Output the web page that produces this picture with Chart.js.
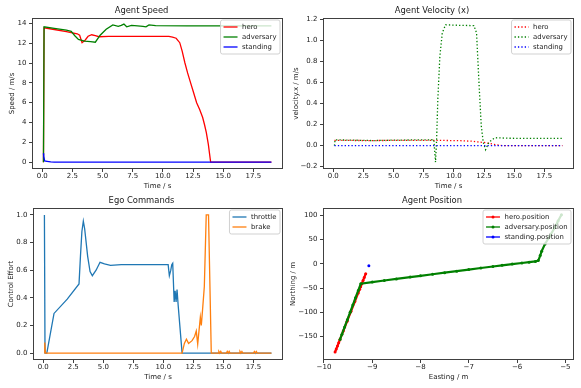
<!DOCTYPE html>
<html><head><meta charset="utf-8">
<script src="https://cdn.jsdelivr.net/npm/chart.js@4/dist/chart.umd.min.js"></script>
<style>
html,body{margin:0;padding:0;background:#fff;}
body{width:581px;height:388px;position:relative;overflow:hidden;}
.p{position:absolute;}
</style>
</head><body>
<div class="p" style="left:0;top:0"><canvas id="c1" width="290" height="194"></canvas></div>
<div class="p" style="left:290px;top:0"><canvas id="c2" width="291" height="194"></canvas></div>
<div class="p" style="left:0;top:194px"><canvas id="c3" width="290" height="194"></canvas></div>
<div class="p" style="left:290px;top:194px"><canvas id="c4" width="291" height="194"></canvas></div>
<script>
// ---------- DATA ----------
// Agent Speed (m/s) vs time (s)
const speedHeroT = [0.1, 0.15, 1.0, 2.0, 2.9, 3.1, 3.3, 3.55, 3.8, 4.1, 4.4, 4.7, 5.5, 8.0, 10.5, 10.8, 11.1, 11.4, 11.6, 11.83, 12.05, 12.3, 12.55, 12.8, 13.05, 13.3, 13.45, 13.6, 13.77, 13.96, 15, 17, 19];
const speedHeroV = [0, 13.55, 13.38, 13.17, 12.95, 12.8, 12.05, 12.3, 12.7, 12.85, 12.75, 12.65, 12.68, 12.68, 12.68, 12.62, 12.5, 12.05, 11.2, 10.0, 9.0, 8.0, 7.0, 6.0, 5.3, 4.5, 3.8, 3.0, 1.8, 0, 0, 0, 0];
const speedAdvT = [0.1, 0.15, 1.0, 2.0, 2.4, 2.7, 3.0, 3.5, 4.0, 4.4, 4.8, 5.3, 5.85, 6.3, 6.55, 6.77, 7.0, 7.4, 7.9, 8.35, 8.6, 8.85, 9.4, 12, 15, 19];
const speedAdvV = [0, 13.65, 13.5, 13.32, 13.2, 12.75, 12.38, 12.2, 12.15, 12.1, 12.8, 13.4, 13.85, 13.7, 13.8, 13.92, 13.65, 13.8, 13.75, 13.7, 13.65, 13.85, 13.78, 13.75, 13.75, 13.75];
const speedStdT = [0.1, 0.12, 0.2, 0.4, 0.7, 1.0, 19];
const speedStdV = [0.9, 0.6, 0.12, 0.08, 0.02, 0, 0];

// Agent Velocity (x)
const velHeroT = [0.1, 3, 6, 8.5, 10.5, 11.5, 12.0, 12.5, 13.0, 13.5, 14.0, 19];
const velHeroV = [0.05, 0.048, 0.05, 0.05, 0.047, 0.042, 0.035, 0.03, 0.02, 0.008, 0, 0];
const velAdvT = [0.1, 0.15, 3.3, 5.0, 8.34, 8.48, 8.57, 8.67, 8.84, 9.04, 9.31, 10.5, 11.66, 11.88, 12.08, 12.27, 12.44, 12.63, 12.9, 13.2, 13.46, 14.5, 19];
const velAdvV = [0, 0.055, 0.048, 0.052, 0.056, -0.157, 0.06, 0.44, 0.85, 1.07, 1.147, 1.142, 1.14, 1.07, 0.6, 0.19, 0.03, -0.038, 0.03, 0.06, 0.075, 0.07, 0.068];
const velStdT = [0.1, 19];
const velStdV = [0, 0];

// Ego Commands
const thrT = [0.1, 0.15, 0.3, 0.9, 2.0, 2.98, 3.1, 3.22, 3.34, 3.45, 3.7, 3.9, 4.09, 4.4, 4.73, 5.1, 5.6, 6.5, 10.4, 10.5, 10.62, 10.7, 10.78, 10.9, 10.98, 11.06, 11.14, 11.23, 11.56, 15, 19];
const thrV = [1.0, 0.0, 0.0, 0.287, 0.39, 0.5, 0.7, 0.88, 0.955, 0.9, 0.7, 0.59, 0.56, 0.6, 0.657, 0.645, 0.635, 0.64, 0.64, 0.56, 0.6, 0.64, 0.65, 0.37, 0.45, 0.37, 0.46, 0.35, 0, 0, 0];
const brkT = [0.1, 0.13, 0.18, 11.56, 11.75, 11.92, 12.1, 12.39, 12.6, 12.74, 12.86, 13.08, 13.16, 13.27, 13.41, 13.57, 13.76, 13.99, 14.55, 14.62, 14.7, 14.78, 14.85, 15.25, 15.32, 15.4, 15.48, 15.55, 16.3, 16.38, 16.46, 16.54, 16.62, 16.7, 17.5, 17.58, 17.66, 17.74, 17.82, 17.9, 19];
const brkV = [0, 0.077, 0, 0, 0.07, 0.10, 0.07, 0.09, 0.12, 0.16, 0.065, 0.26, 0.2, 0.32, 0.48, 1.0, 1.0, 0, 0, 0.012, 0, 0.012, 0, 0, 0.012, 0, 0.012, 0, 0, 0.012, 0, 0.012, 0, 0, 0, 0.012, 0, 0.012, 0, 0, 0];

// Agent Position (Easting, Northing)
const heroPosE = [-9.77, -9.745, -9.72, -9.695, -9.67, -9.6, -9.52, -9.44, -9.36, -9.29, -9.26, -9.24, -9.215, -9.19, -9.165, -9.135];
const heroPosN = [-181.6, -175.3, -169, -162.6, -156.3, -138.5, -118.2, -97.9, -77.7, -60, -52.4, -47.3, -41, -34.6, -28.3, -20.7];
const advPosE = [-9.667, -9.627, -9.571, -9.515, -9.458, -9.402, -9.346, -9.289, -9.237, -9.0, -8.75, -8.5, -8.215, -8.0, -7.75, -7.5, -7.25, -7.0, -6.75, -6.5, -6.31, -6.1, -5.9, -5.75, -5.62, -5.56, -5.52, -5.49, -5.42, -5.32, -5.215, -5.15, -5.08];
const advPosN = [-155.6, -145, -130, -115, -100, -85, -70, -55, -41.1, -37.8, -34.6, -31.4, -27.6, -24.9, -21.7, -18.5, -15.3, -12.1, -8.9, -5.8, -3.4, -0.8, 1.4, 3.1, 4.6, 6.5, 16.8, 25.7, 40.7, 57, 74.8, 88, 100.6];
const stdPosE = [-9.07];
const stdPosN = [-4.3];

// Tick labels
const timeTicks = [0, 2.5, 5, 7.5, 10, 12.5, 15, 17.5];
const speedTicks = [0, 2, 4, 6, 8, 10, 12, 14];
const velTicks = [-0.2, 0, 0.2, 0.4, 0.6, 0.8, 1.0, 1.2];
const effortTicks = [0, 0.2, 0.4, 0.6, 0.8, 1.0];
const eastTicks = [-10, -9, -8, -7, -6, -5];
const northTicks = [-150, -100, -50, 0, 50, 100];

// ---------- HELPERS ----------
const FONT = "'DejaVu Sans', sans-serif";
const TXT = '#1a1a1a';
const xy = (xs, ys) => xs.map((x, i) => ({x: x, y: ys[i]}));
const minus = s => String(s).replace('-', '\u2212');
const f1 = v => minus((Math.abs(v) < 1e-9 ? 0 : v).toFixed(1));
const f0 = v => minus(String(Math.round(v)));

function makeChart(id, g, spec) {
  const deco = {
    id: 'deco_' + id,
    afterDatasetsDraw(chart) {
      const a = chart.chartArea, ctx = chart.ctx;
      ctx.save();
      ctx.strokeStyle = 'rgba(0,0,0,0.75)';
      ctx.lineWidth = 1;
      ctx.strokeRect(Math.round(a.left) + 0.5, Math.round(a.top) + 0.5, Math.round(a.right - a.left) - 1, Math.round(a.bottom - a.top) - 1);
      ctx.restore();
    },
    afterDraw(chart) {
      const a = chart.chartArea, ctx = chart.ctx;
      const items = spec.legend;
      ctx.save();
      ctx.font = '6.9px ' + FONT;
      let mw = 0;
      items.forEach(it => { mw = Math.max(mw, ctx.measureText(it.label).width); });
      const padL = 3, hl = 14, gap = 4.5, padR = 3.5;
      const w = padL + hl + gap + mw + padR;
      const h = items.length * 10 + 4;
      const x0 = a.right - 3 - w, y0 = a.top + 2;
      // box
      const r = 2;
      ctx.beginPath();
      ctx.moveTo(x0 + r, y0);
      ctx.lineTo(x0 + w - r, y0); ctx.quadraticCurveTo(x0 + w, y0, x0 + w, y0 + r);
      ctx.lineTo(x0 + w, y0 + h - r); ctx.quadraticCurveTo(x0 + w, y0 + h, x0 + w - r, y0 + h);
      ctx.lineTo(x0 + r, y0 + h); ctx.quadraticCurveTo(x0, y0 + h, x0, y0 + h - r);
      ctx.lineTo(x0, y0 + r); ctx.quadraticCurveTo(x0, y0, x0 + r, y0);
      ctx.closePath();
      ctx.fillStyle = 'rgba(255,255,255,0.8)';
      ctx.fill();
      ctx.strokeStyle = '#cccccc';
      ctx.lineWidth = 0.9;
      ctx.stroke();
      items.forEach((it, i) => {
        const cy = y0 + 7 + i * 10;
        ctx.strokeStyle = it.color;
        ctx.lineWidth = 1.3;
        ctx.setLineDash(it.dash || []);
        ctx.beginPath();
        ctx.moveTo(x0 + padL, cy); ctx.lineTo(x0 + padL + hl, cy);
        ctx.stroke();
        ctx.setLineDash([]);
        if (it.marker) {
          ctx.fillStyle = it.color;
          ctx.beginPath(); ctx.arc(x0 + padL + hl / 2, cy, 1.5, 0, Math.PI * 2); ctx.fill();
        }
        ctx.fillStyle = TXT;
        ctx.textBaseline = 'middle';
        ctx.textAlign = 'left';
        ctx.fillText(it.label, x0 + padL + hl + gap, cy + 0.5);
      });
      ctx.restore();
    }
  };
  const tickFont = {family: FONT, size: 7, lineHeight: 1};
  const gridOpts = {display: true, drawOnChartArea: false, drawTicks: true, tickLength: 3, tickColor: 'rgba(0,0,0,0.75)', tickWidth: 1, color: 'rgba(0,0,0,0)'};
  return new Chart(document.getElementById(id), {
    type: 'line',
    data: {datasets: spec.datasets},
    options: {
      responsive: false, animation: false, devicePixelRatio: 1,
      events: [],
      layout: {padding: {left: 0, right: g.padRight, top: 0, bottom: 0}},
      plugins: {
        legend: {display: false}, tooltip: {enabled: false},
        title: {display: true, text: spec.title, color: TXT,
          font: {family: FONT, size: 8.4, weight: 'normal', lineHeight: '10px'},
          padding: {top: g.tTop, bottom: g.tBottom}}
      },
      scales: {
        x: {type: 'linear', position: 'bottom', min: spec.xMin, max: spec.xMax,
          afterBuildTicks: s => { s.ticks = spec.xTicks.map(v => ({value: v})); },
          afterFit: s => { s.height = g.xH; },
          ticks: {callback: v => spec.xFmt(v), font: tickFont, color: TXT, padding: 0.7, autoSkip: false, maxRotation: 0, minRotation: 0},
          grid: gridOpts, border: {display: false},
          title: {display: true, text: spec.xTitle, color: TXT, font: {family: FONT, size: 7, lineHeight: 1}, padding: {top: 0, bottom: g.xTitlePad}}
        },
        y: {type: 'linear', position: 'left', min: spec.yMin, max: spec.yMax,
          afterBuildTicks: s => { s.ticks = spec.yTicks.map(v => ({value: v})); },
          afterFit: s => { s.width = g.yW; },
          ticks: {callback: v => spec.yFmt(v), font: tickFont, color: TXT, padding: 2.6, autoSkip: false},
          grid: gridOpts, border: {display: false},
          title: {display: true, text: spec.yTitle, color: TXT, font: {family: FONT, size: 7, lineHeight: 1}, padding: {top: g.yTitlePad, bottom: 0}}
        }
      }
    },
    plugins: [deco]
  });
}

const solid = (label, xs, ys, color, order) => ({label, data: xy(xs, ys), borderColor: color, backgroundColor: color, borderWidth: 1.3, pointRadius: 0, tension: 0, fill: false, order});
const dotted = (label, xs, ys, color, order) => ({label, data: xy(xs, ys), borderColor: color, backgroundColor: color, borderWidth: 1.3, borderDash: [1.3, 2.1], pointRadius: 0, tension: 0, fill: false, order});
const marked = (label, xs, ys, color, order, lw) => ({label, data: xy(xs, ys), borderColor: color, backgroundColor: color, borderWidth: lw, pointRadius: 1.5, pointBorderWidth: 0, pointBackgroundColor: color, tension: 0, fill: false, order});

makeChart('c1', {padRight: 7, tTop: 6, tBottom: 2, xH: 25, yW: 32, xTitlePad: 4.8, yTitlePad: 8.2}, {
  title: 'Agent Speed', xTitle: 'Time / s', yTitle: 'Speed / m/s',
  xMin: -0.85, xMax: 19.96, xTicks: timeTicks, xFmt: f1,
  yMin: -0.69, yMax: 14.54, yTicks: speedTicks, yFmt: f0,
  datasets: [
    solid('hero', speedHeroT, speedHeroV, '#ff0000', 3),
    solid('adversary', speedAdvT, speedAdvV, '#008000', 2),
    solid('standing', speedStdT, speedStdV, '#0000ff', 1)
  ],
  legend: [{label: 'hero', color: '#ff0000'}, {label: 'adversary', color: '#008000'}, {label: 'standing', color: '#0000ff'}]
});

makeChart('c2', {padRight: 7, tTop: 6, tBottom: 2, xH: 25, yW: 33, xTitlePad: 4.8, yTitlePad: 2.5}, {
  title: 'Agent Velocity (x)', xTitle: 'Time / s', yTitle: 'velocity.x / m/s',
  xMin: -0.85, xMax: 19.96, xTicks: timeTicks, xFmt: f1,
  yMin: -0.222, yMax: 1.212, yTicks: velTicks, yFmt: f1,
  datasets: [
    dotted('hero', velHeroT, velHeroV, '#ff0000', 3),
    dotted('adversary', velAdvT, velAdvV, '#008000', 2),
    dotted('standing', velStdT, velStdV, '#0000ff', 1)
  ],
  legend: [{label: 'hero', color: '#ff0000', dash: [1.3, 2.1]}, {label: 'adversary', color: '#008000', dash: [1.3, 2.1]}, {label: 'standing', color: '#0000ff', dash: [1.3, 2.1]}]
});

makeChart('c3', {padRight: 7, tTop: 2, tBottom: 2, xH: 28, yW: 33, xTitlePad: 7.8, yTitlePad: 7.2}, {
  title: 'Ego Commands', xTitle: 'Time / s', yTitle: 'Control Effort',
  xMin: -0.85, xMax: 19.96, xTicks: timeTicks, xFmt: f1,
  yMin: -0.05, yMax: 1.05, yTicks: effortTicks, yFmt: f1,
  datasets: [
    solid('throttle', thrT, thrV, '#1f77b4', 2),
    solid('brake', brkT, brkV, '#ff7f0e', 1)
  ],
  legend: [{label: 'throttle', color: '#1f77b4'}, {label: 'brake', color: '#ff7f0e'}]
});

makeChart('c4', {padRight: 7, tTop: 2, tBottom: 2, xH: 28, yW: 33, xTitlePad: 7.8, yTitlePad: 0}, {
  title: 'Agent Position', xTitle: 'Easting / m', yTitle: 'Northing / m',
  xMin: -10.02, xMax: -4.82, xTicks: eastTicks, xFmt: f0,
  yMin: -198, yMax: 114.5, yTicks: northTicks, yFmt: f0,
  datasets: [
    marked('hero.position', heroPosE, heroPosN, '#ff0000', 3, 2.2),
    marked('adversary.position', advPosE, advPosN, '#008000', 2, 2.2),
    marked('standing.position', stdPosE, stdPosN, '#0000ff', 1, 1.3)
  ],
  legend: [{label: 'hero.position', color: '#ff0000', marker: true}, {label: 'adversary.position', color: '#008000', marker: true}, {label: 'standing.position', color: '#0000ff', marker: true}]
});
</script>
</body></html>
